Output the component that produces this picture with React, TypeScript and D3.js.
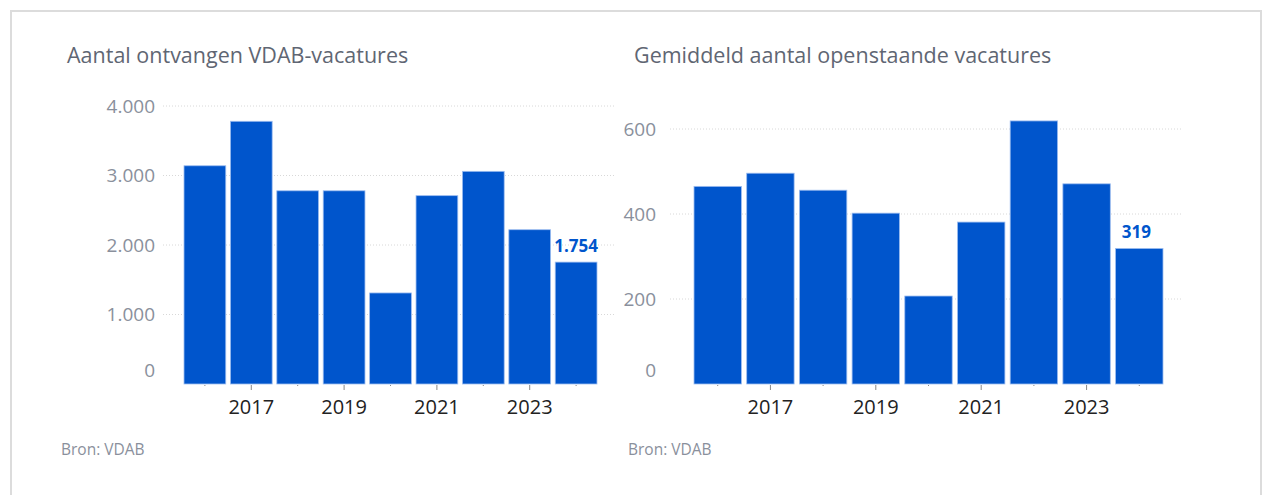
import React from "react";
import * as d3 from "d3";

const years = [2016, 2017, 2018, 2019, 2020, 2021, 2022, 2023, 2024];
const received = [3140, 3780, 2780, 2780, 1310, 2710, 3060, 2220, 1754];
const openAvg = [465, 496, 456, 402, 207, 381, 619, 471, 319];
const leftTicks = [0, 1000, 2000, 3000, 4000];
const rightTicks = [0, 200, 400, 600];
const yearLabels = [2017, 2019, 2021, 2023];

const BAR = "#0055cc";
const FONT = "'Open Sans', 'Noto Sans', sans-serif";
const GREY = "#8a909c";
const TITLE = "#5f6673";

const fmt = (v: number) => d3.format(",")(v).replace(/,/g, ".");

type PanelProps = {
  title: string;
  values: number[];
  ticks: number[];
  domainMax: number;
  xRange: [number, number];
  yTop: number;
  yBase: number;
  gridX: [number, number];
  labelRight: number;
  titleX: number;
  sourceX: number;
  lastLabelDx: number;
};

function Panel(p: PanelProps) {
  const x = d3.scaleBand<number>().domain(years).range(p.xRange).paddingInner(0.1).paddingOuter(0);
  const y = d3.scaleLinear().domain([0, p.domainMax]).range([p.yBase, p.yTop]);
  const last = years.length - 1;
  return (
    <g>
      <text x={p.titleX} y={63} fontFamily={FONT} fontSize={21.5} fill={TITLE}>
        {p.title}
      </text>
      {p.ticks.map((t) => (
        <g key={t}>
          {t > 0 && (
            <line x1={p.gridX[0]} x2={p.gridX[1]} y1={y(t)} y2={y(t)} stroke="#d8d8d8" strokeDasharray="1,2" />
          )}
          <text
            x={p.labelRight}
            y={t === 0 ? y(t) - 14 : y(t)}
            dy="0.35em"
            textAnchor="end"
            fontFamily={FONT}
            fontSize={19}
            fill={GREY}
          >
            {fmt(t)}
          </text>
        </g>
      ))}
      {years.map((yr, i) => (
        <rect
          key={yr}
          x={x(yr)!}
          y={y(p.values[i])}
          width={x.bandwidth()}
          height={p.yBase - y(p.values[i])}
          fill={BAR}
          stroke="#9dbdf0"
          strokeWidth={0.8}
        />
      ))}
      {years.map((yr) => {
        const cx = x(yr)! + x.bandwidth() / 2;
        const major = yearLabels.includes(yr);
        return (
          <g key={"t" + yr}>
            <line x1={cx} x2={cx} y1={p.yBase + 1} y2={p.yBase + (major ? 6 : 2)} stroke="#888" strokeWidth={1} />
            {major && (
              <text x={cx} y={p.yBase + 30} textAnchor="middle" fontFamily={FONT} fontSize={20} fill="#222">
                {yr}
              </text>
            )}
          </g>
        );
      })}
      <text
        x={x(years[last])! + x.bandwidth() / 2 + p.lastLabelDx}
        y={y(p.values[last]) - 10}
        textAnchor="middle"
        fontFamily={FONT}
        fontWeight="bold"
        fontSize={17}
        fill={BAR}
      >
        {fmt(p.values[last])}
      </text>
      <text x={p.sourceX} y={455} fontFamily={FONT} fontSize={15.5} fill={GREY}>
        Bron: VDAB
      </text>
    </g>
  );
}

export default function App() {
  return (
    <svg
      width={1264}
      height={495}
      style={{ position: "absolute", left: 0, top: 0, background: "#fff" }}
    >
      <rect x={11} y={11} width={1250} height={500} fill="none" stroke="#dcdcdc" strokeWidth={2} />
      <Panel
        title="Aantal ontvangen VDAB-vacatures"
        values={received}
        ticks={leftTicks}
        domainMax={4000}
        xRange={[184, 597]}
        yTop={106}
        yBase={384}
        gridX={[163, 615]}
        labelRight={155}
        titleX={67}
        sourceX={61}
        lastLabelDx={0}
      />
      <Panel
        title="Gemiddeld aantal openstaande vacatures"
        values={openAvg}
        ticks={rightTicks}
        domainMax={600}
        xRange={[694, 1163]}
        yTop={129}
        yBase={384}
        gridX={[670, 1183]}
        labelRight={656}
        titleX={634}
        sourceX={628}
        lastLabelDx={-3}
      />
    </svg>
  );
}
